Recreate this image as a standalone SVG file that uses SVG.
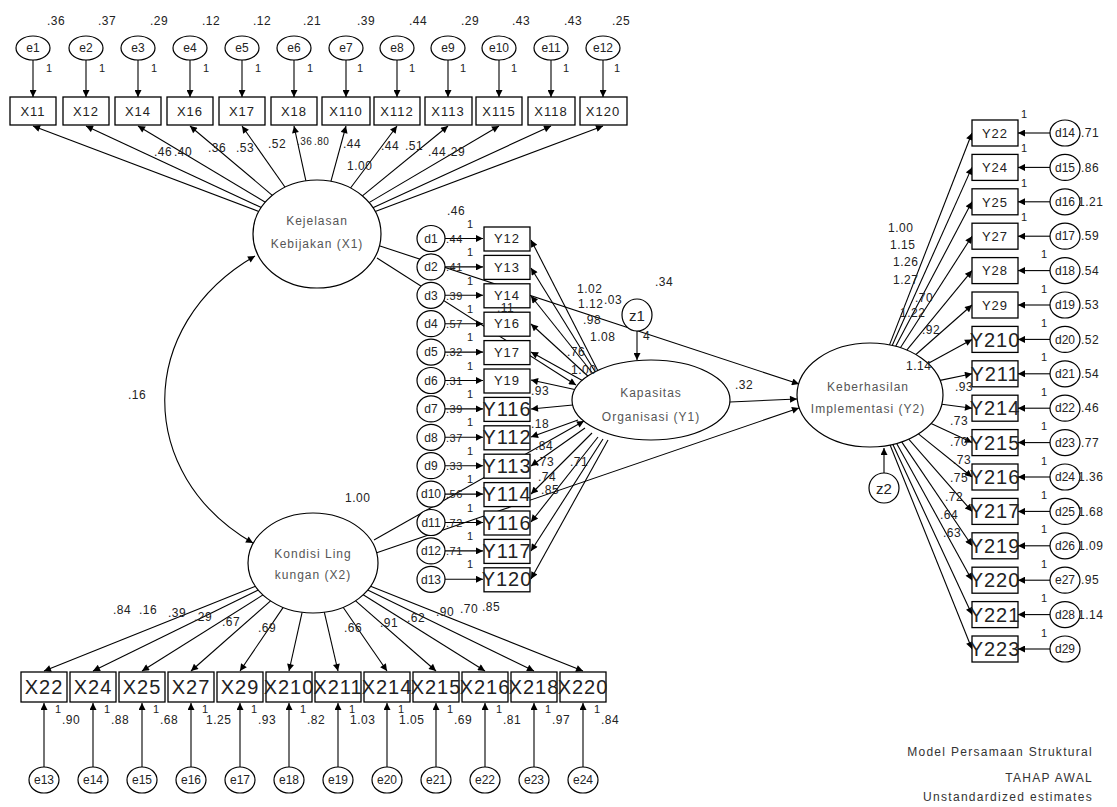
<svg xmlns="http://www.w3.org/2000/svg" width="1117" height="807" viewBox="0 0 1117 807">
<style>
text{font-family:"Liberation Sans",Arial,sans-serif;fill:#222}
.s{font-size:12px;letter-spacing:0.5px}
.n{font-size:13px;text-anchor:middle;letter-spacing:1px}
.b{font-size:20px;text-anchor:middle;letter-spacing:1px}
.one{font-size:11px}
.lat{font-size:12px;text-anchor:middle;fill:#555;letter-spacing:1px}
.e{font-size:12px;text-anchor:middle}
.bx{fill:#fff;stroke:#000;stroke-width:1.3}
.el{fill:#fff;stroke:#000;stroke-width:1.2}
.c line,.c path{stroke:#000;stroke-width:1.1;fill:none}
.ttl{font-size:12px;text-anchor:end;letter-spacing:1.3px;fill:#333}
</style>
<defs>
<marker id="a" viewBox="0 0 10 10" refX="10" refY="5" markerWidth="9" markerHeight="7" markerUnits="userSpaceOnUse" orient="auto-start-reverse"><path d="M0,0 L10,5 L0,10 z" fill="#000"/></marker>
</defs>
<rect width="1117" height="807" fill="#fff"/>

<g class="c" id="connectors" marker-end="url(#a)">
<line x1="33" y1="60" x2="33" y2="97"/><line x1="86" y1="60" x2="86" y2="97"/><line x1="138" y1="60" x2="138" y2="97"/><line x1="190" y1="60" x2="190" y2="97"/><line x1="242" y1="60" x2="242" y2="97"/><line x1="294" y1="60" x2="294" y2="97"/><line x1="346" y1="60" x2="346" y2="97"/><line x1="397" y1="60" x2="397" y2="97"/><line x1="448" y1="60" x2="448" y2="97"/><line x1="499" y1="60" x2="499" y2="97"/><line x1="551" y1="60" x2="551" y2="97"/><line x1="603" y1="60" x2="603" y2="97"/>
<line x1="258.8" y1="211.5" x2="33" y2="126"/><line x1="261.3" y1="207.5" x2="86" y2="126"/><line x1="265.3" y1="202.2" x2="138" y2="126"/><line x1="272.3" y1="195.3" x2="190" y2="126"/><line x1="285.1" y1="187.2" x2="242" y2="126"/><line x1="305.9" y1="180.8" x2="294" y2="126"/><line x1="330.9" y1="181.3" x2="346" y2="126"/><line x1="350.5" y1="188" x2="397" y2="126"/><line x1="362.4" y1="195.9" x2="448" y2="126"/><line x1="369" y1="202.6" x2="499" y2="126"/><line x1="372.9" y1="207.7" x2="551" y2="126"/><line x1="375.2" y1="211.6" x2="603" y2="126"/>
<path d="M255,256 C135,325 135,475 253,543" marker-start="url(#a)"/>
<line x1="377" y1="258" x2="576" y2="385"/>
<line x1="380" y1="246" x2="799" y2="384"/>
<line x1="374" y1="540" x2="584" y2="421"/>
<line x1="376" y1="553" x2="799" y2="408"/>
<line x1="730" y1="402" x2="797" y2="399"/>
<line x1="637" y1="331" x2="637" y2="360"/>
<line x1="884" y1="473" x2="884" y2="448"/>
<line x1="445" y1="238.5" x2="483" y2="238.5"/><line x1="445" y1="266.9" x2="483" y2="266.9"/><line x1="445" y1="295.3" x2="483" y2="295.3"/><line x1="445" y1="323.7" x2="483" y2="323.7"/><line x1="445" y1="352.1" x2="483" y2="352.1"/><line x1="445" y1="380.5" x2="483" y2="380.5"/><line x1="445" y1="408.9" x2="483" y2="408.9"/><line x1="445" y1="437.3" x2="483" y2="437.3"/><line x1="445" y1="465.7" x2="483" y2="465.7"/><line x1="445" y1="494.1" x2="483" y2="494.1"/><line x1="445" y1="522.5" x2="483" y2="522.5"/><line x1="445" y1="550.9" x2="483" y2="550.9"/><line x1="445" y1="579.3" x2="483" y2="579.3"/>
<line x1="598" y1="371" x2="531" y2="240"/><line x1="596" y1="373" x2="531" y2="268"/><line x1="594" y1="375" x2="531" y2="296"/><line x1="590" y1="378" x2="531" y2="324"/><line x1="585" y1="382" x2="531" y2="352"/><line x1="577" y1="390" x2="531" y2="380"/><line x1="573" y1="405" x2="531" y2="409"/><line x1="578" y1="420" x2="531" y2="437"/><line x1="585" y1="428" x2="531" y2="466"/><line x1="592" y1="433" x2="531" y2="494"/><line x1="598" y1="437" x2="531" y2="522"/><line x1="603" y1="439" x2="531" y2="551"/><line x1="608" y1="440" x2="531" y2="579"/>
<line x1="889.5" y1="344.9" x2="972" y2="133"/><line x1="892.2" y1="345.5" x2="972" y2="167.4"/><line x1="895.7" y1="346.3" x2="972" y2="201.8"/><line x1="900.4" y1="347.7" x2="972" y2="236.2"/><line x1="906.8" y1="350.1" x2="972" y2="270.6"/><line x1="915.9" y1="354.5" x2="972" y2="305"/><line x1="928" y1="363.4" x2="972" y2="339.4"/><line x1="940.1" y1="380.4" x2="972" y2="373.8"/><line x1="941.8" y1="404.3" x2="972" y2="408.2"/><line x1="931.1" y1="423.5" x2="972" y2="442.6"/><line x1="918.4" y1="433.9" x2="972" y2="477"/><line x1="908.7" y1="439.1" x2="972" y2="511.4"/><line x1="901.7" y1="441.9" x2="972" y2="545.8"/><line x1="896.7" y1="443.4" x2="972" y2="580.2"/><line x1="892.9" y1="444.4" x2="972" y2="614.6"/><line x1="890.1" y1="445" x2="972" y2="649"/>
<line x1="1050" y1="133" x2="1018" y2="133"/><line x1="1050" y1="167.4" x2="1018" y2="167.4"/><line x1="1050" y1="201.8" x2="1018" y2="201.8"/><line x1="1050" y1="236.2" x2="1018" y2="236.2"/><line x1="1050" y1="270.6" x2="1018" y2="270.6"/><line x1="1050" y1="305" x2="1018" y2="305"/><line x1="1050" y1="339.4" x2="1018" y2="339.4"/><line x1="1050" y1="373.8" x2="1018" y2="373.8"/><line x1="1050" y1="408.2" x2="1018" y2="408.2"/><line x1="1050" y1="442.6" x2="1018" y2="442.6"/><line x1="1050" y1="477" x2="1018" y2="477"/><line x1="1050" y1="511.4" x2="1018" y2="511.4"/><line x1="1050" y1="545.8" x2="1018" y2="545.8"/><line x1="1050" y1="580.2" x2="1018" y2="580.2"/><line x1="1050" y1="614.6" x2="1018" y2="614.6"/><line x1="1050" y1="649" x2="1018" y2="649"/>
<line x1="255.5" y1="586.3" x2="44" y2="671"/><line x1="258.3" y1="590.1" x2="93" y2="671"/><line x1="263" y1="594.9" x2="142" y2="671"/><line x1="270.6" y1="600.9" x2="191" y2="671"/><line x1="283.2" y1="607.4" x2="240" y2="671"/><line x1="302.1" y1="612.3" x2="289" y2="671"/><line x1="324.3" y1="612.2" x2="338" y2="671"/><line x1="343.1" y1="607.3" x2="387" y2="671"/><line x1="355.6" y1="600.8" x2="436" y2="671"/><line x1="363.2" y1="594.8" x2="485" y2="671"/><line x1="367.7" y1="590" x2="534" y2="671"/><line x1="370.6" y1="586.2" x2="583" y2="671"/>
<line x1="44" y1="767" x2="44" y2="703"/><line x1="93" y1="767" x2="93" y2="703"/><line x1="142" y1="767" x2="142" y2="703"/><line x1="191" y1="767" x2="191" y2="703"/><line x1="240" y1="767" x2="240" y2="703"/><line x1="289" y1="767" x2="289" y2="703"/><line x1="338" y1="767" x2="338" y2="703"/><line x1="387" y1="767" x2="387" y2="703"/><line x1="436" y1="767" x2="436" y2="703"/><line x1="485" y1="767" x2="485" y2="703"/><line x1="534" y1="767" x2="534" y2="703"/><line x1="583" y1="767" x2="583" y2="703"/>
</g>

<g id="X1"><ellipse class="el" cx="317" cy="234" rx="64" ry="54"/><text class="lat" x="317" y="225">Kejelasan</text><text class="lat" x="317" y="248">Kebijakan (X1)</text></g>
<g id="X2"><ellipse class="el" cx="313" cy="563" rx="65" ry="50"/><text class="lat" x="313" y="558">Kondisi Ling</text><text class="lat" x="313" y="579">kungan (X2)</text></g>
<g id="Y1"><ellipse class="el" cx="651" cy="400" rx="79" ry="40"/><text class="lat" x="651" y="397">Kapasitas</text><text class="lat" x="651" y="421">Organisasi (Y1)</text></g>
<g id="Y2"><ellipse class="el" cx="870" cy="395" rx="73" ry="52"/><text class="lat" x="868" y="391">Keberhasilan</text><text class="lat" x="868" y="413">Implementasi (Y2)</text></g>
<g id="z1"><ellipse class="el" cx="637" cy="315" rx="15" ry="16"/><text class="e" x="637" y="321" style="font-size:15px">z1</text></g>
<g id="z2"><ellipse class="el" cx="884" cy="488" rx="15" ry="15"/><text class="e" x="884" y="494" style="font-size:15px">z2</text></g>

<g id="e1"><ellipse class="el" cx="33" cy="48" rx="17" ry="12"/><text class="e" x="33" y="52">e1</text></g>
<g id="e2"><ellipse class="el" cx="86" cy="48" rx="17" ry="12"/><text class="e" x="86" y="52">e2</text></g>
<g id="e3"><ellipse class="el" cx="138" cy="48" rx="17" ry="12"/><text class="e" x="138" y="52">e3</text></g>
<g id="e4"><ellipse class="el" cx="190" cy="48" rx="17" ry="12"/><text class="e" x="190" y="52">e4</text></g>
<g id="e5"><ellipse class="el" cx="242" cy="48" rx="17" ry="12"/><text class="e" x="242" y="52">e5</text></g>
<g id="e6"><ellipse class="el" cx="294" cy="48" rx="17" ry="12"/><text class="e" x="294" y="52">e6</text></g>
<g id="e7"><ellipse class="el" cx="346" cy="48" rx="17" ry="12"/><text class="e" x="346" y="52">e7</text></g>
<g id="e8"><ellipse class="el" cx="397" cy="48" rx="17" ry="12"/><text class="e" x="397" y="52">e8</text></g>
<g id="e9"><ellipse class="el" cx="448" cy="48" rx="17" ry="12"/><text class="e" x="448" y="52">e9</text></g>
<g id="e10"><ellipse class="el" cx="499" cy="48" rx="17" ry="12"/><text class="e" x="499" y="52">e10</text></g>
<g id="e11"><ellipse class="el" cx="551" cy="48" rx="17" ry="12"/><text class="e" x="551" y="52">e11</text></g>
<g id="e12"><ellipse class="el" cx="603" cy="48" rx="17" ry="12"/><text class="e" x="603" y="52">e12</text></g>
<g id="X11"><rect class="bx" x="10" y="97" width="46" height="28"/><text class="n" x="33" y="116">X11</text></g>
<g id="X12"><rect class="bx" x="63" y="97" width="46" height="28"/><text class="n" x="86" y="116">X12</text></g>
<g id="X14"><rect class="bx" x="115" y="97" width="46" height="28"/><text class="n" x="138" y="116">X14</text></g>
<g id="X16"><rect class="bx" x="167" y="97" width="46" height="28"/><text class="n" x="190" y="116">X16</text></g>
<g id="X17"><rect class="bx" x="219" y="97" width="46" height="28"/><text class="n" x="242" y="116">X17</text></g>
<g id="X18"><rect class="bx" x="271" y="97" width="46" height="28"/><text class="n" x="294" y="116">X18</text></g>
<g id="X110"><rect class="bx" x="322" y="97" width="48" height="28"/><text class="n" x="346" y="116">X110</text></g>
<g id="X112"><rect class="bx" x="374" y="97" width="46" height="28"/><text class="n" x="397" y="116">X112</text></g>
<g id="X113"><rect class="bx" x="425" y="97" width="47" height="28"/><text class="n" x="448" y="116">X113</text></g>
<g id="X115"><rect class="bx" x="476" y="97" width="46" height="28"/><text class="n" x="499" y="116">X115</text></g>
<g id="X118"><rect class="bx" x="528" y="97" width="47" height="28"/><text class="n" x="551" y="116">X118</text></g>
<g id="X120"><rect class="bx" x="580" y="97" width="47" height="28"/><text class="n" x="603" y="116">X120</text></g>

<g id="d1"><ellipse class="el" cx="431" cy="238.5" rx="14" ry="13"/><text class="e" x="431" y="243">d1</text></g>
<g id="d2"><ellipse class="el" cx="431" cy="266.9" rx="14" ry="13"/><text class="e" x="431" y="271">d2</text></g>
<g id="d3"><ellipse class="el" cx="431" cy="295.3" rx="14" ry="13"/><text class="e" x="431" y="300">d3</text></g>
<g id="d4"><ellipse class="el" cx="431" cy="323.7" rx="14" ry="13"/><text class="e" x="431" y="328">d4</text></g>
<g id="d5"><ellipse class="el" cx="431" cy="352.1" rx="14" ry="13"/><text class="e" x="431" y="356">d5</text></g>
<g id="d6"><ellipse class="el" cx="431" cy="380.5" rx="14" ry="13"/><text class="e" x="431" y="385">d6</text></g>
<g id="d7"><ellipse class="el" cx="431" cy="408.9" rx="14" ry="13"/><text class="e" x="431" y="413">d7</text></g>
<g id="d8"><ellipse class="el" cx="431" cy="437.3" rx="14" ry="13"/><text class="e" x="431" y="442">d8</text></g>
<g id="d9"><ellipse class="el" cx="431" cy="465.7" rx="14" ry="13"/><text class="e" x="431" y="470">d9</text></g>
<g id="d10"><ellipse class="el" cx="431" cy="494.1" rx="14" ry="13"/><text class="e" x="431" y="498">d10</text></g>
<g id="d11"><ellipse class="el" cx="431" cy="522.5" rx="14" ry="13"/><text class="e" x="431" y="527">d11</text></g>
<g id="d12"><ellipse class="el" cx="431" cy="550.9" rx="14" ry="13"/><text class="e" x="431" y="555">d12</text></g>
<g id="d13"><ellipse class="el" cx="431" cy="579.3" rx="14" ry="13"/><text class="e" x="431" y="584">d13</text></g>
<g id="Y12"><rect class="bx" x="484" y="227" width="46" height="24"/><text class="n" x="507" y="243">Y12</text></g>
<g id="Y13"><rect class="bx" x="484" y="255.4" width="46" height="24"/><text class="n" x="507" y="272">Y13</text></g>
<g id="Y14"><rect class="bx" x="484" y="283.8" width="46" height="24"/><text class="n" x="507" y="300">Y14</text></g>
<g id="Y16"><rect class="bx" x="484" y="312.2" width="46" height="24"/><text class="n" x="507" y="328">Y16</text></g>
<g id="Y17"><rect class="bx" x="484" y="340.6" width="46" height="24"/><text class="n" x="507" y="357">Y17</text></g>
<g id="Y19"><rect class="bx" x="484" y="369" width="46" height="24"/><text class="n" x="507" y="385">Y19</text></g>
<g id="Y116a"><rect class="bx" x="484" y="397.4" width="46" height="24"/><text class="b" x="507" y="416">Y116</text></g>
<g id="Y112"><rect class="bx" x="484" y="425.8" width="46" height="24"/><text class="b" x="507" y="444">Y112</text></g>
<g id="Y113"><rect class="bx" x="484" y="454.2" width="46" height="24"/><text class="b" x="507" y="473">Y113</text></g>
<g id="Y114"><rect class="bx" x="484" y="482.6" width="46" height="24"/><text class="b" x="507" y="501">Y114</text></g>
<g id="Y116b"><rect class="bx" x="484" y="511" width="46" height="24"/><text class="b" x="507" y="530">Y116</text></g>
<g id="Y117"><rect class="bx" x="484" y="539.4" width="46" height="24"/><text class="b" x="507" y="558">Y117</text></g>
<g id="Y120"><rect class="bx" x="484" y="567.8" width="46" height="24"/><text class="b" x="507" y="586">Y120</text></g>

<g id="Y22"><rect class="bx" x="972" y="120" width="46" height="26"/><text class="n" x="995" y="138">Y22</text></g>
<g id="Y24"><rect class="bx" x="972" y="154.4" width="46" height="26"/><text class="n" x="995" y="172">Y24</text></g>
<g id="Y25"><rect class="bx" x="972" y="188.8" width="46" height="26"/><text class="n" x="995" y="207">Y25</text></g>
<g id="Y27"><rect class="bx" x="972" y="223.2" width="46" height="26"/><text class="n" x="995" y="241">Y27</text></g>
<g id="Y28"><rect class="bx" x="972" y="257.6" width="46" height="26"/><text class="n" x="995" y="275">Y28</text></g>
<g id="Y29"><rect class="bx" x="972" y="292" width="46" height="26"/><text class="n" x="995" y="310">Y29</text></g>
<g id="Y210"><rect class="bx" x="972" y="326.4" width="46" height="26"/><text class="b" x="995" y="347">Y210</text></g>
<g id="Y211"><rect class="bx" x="972" y="360.8" width="46" height="26"/><text class="b" x="995" y="381">Y211</text></g>
<g id="Y214"><rect class="bx" x="972" y="395.2" width="46" height="26"/><text class="b" x="995" y="415">Y214</text></g>
<g id="Y215"><rect class="bx" x="972" y="429.6" width="46" height="26"/><text class="b" x="995" y="450">Y215</text></g>
<g id="Y216"><rect class="bx" x="972" y="464" width="46" height="26"/><text class="b" x="995" y="484">Y216</text></g>
<g id="Y217"><rect class="bx" x="972" y="498.4" width="46" height="26"/><text class="b" x="995" y="518">Y217</text></g>
<g id="Y219"><rect class="bx" x="972" y="532.8" width="46" height="26"/><text class="b" x="995" y="553">Y219</text></g>
<g id="Y220"><rect class="bx" x="972" y="567.2" width="46" height="26"/><text class="b" x="995" y="587">Y220</text></g>
<g id="Y221"><rect class="bx" x="972" y="601.6" width="46" height="26"/><text class="b" x="995" y="622">Y221</text></g>
<g id="Y223"><rect class="bx" x="972" y="636" width="46" height="26"/><text class="b" x="995" y="656">Y223</text></g>
<g id="d14"><ellipse class="el" cx="1065" cy="133" rx="15" ry="13"/><text class="e" x="1065" y="137">d14</text></g>
<g id="d15"><ellipse class="el" cx="1065" cy="167.4" rx="15" ry="13"/><text class="e" x="1065" y="172">d15</text></g>
<g id="d16"><ellipse class="el" cx="1065" cy="201.8" rx="15" ry="13"/><text class="e" x="1065" y="206">d16</text></g>
<g id="d17"><ellipse class="el" cx="1065" cy="236.2" rx="15" ry="13"/><text class="e" x="1065" y="240">d17</text></g>
<g id="d18"><ellipse class="el" cx="1065" cy="270.6" rx="15" ry="13"/><text class="e" x="1065" y="275">d18</text></g>
<g id="d19"><ellipse class="el" cx="1065" cy="305" rx="15" ry="13"/><text class="e" x="1065" y="309">d19</text></g>
<g id="d20"><ellipse class="el" cx="1065" cy="339.4" rx="15" ry="13"/><text class="e" x="1065" y="344">d20</text></g>
<g id="d21"><ellipse class="el" cx="1065" cy="373.8" rx="15" ry="13"/><text class="e" x="1065" y="378">d21</text></g>
<g id="d22"><ellipse class="el" cx="1065" cy="408.2" rx="15" ry="13"/><text class="e" x="1065" y="412">d22</text></g>
<g id="d23"><ellipse class="el" cx="1065" cy="442.6" rx="15" ry="13"/><text class="e" x="1065" y="447">d23</text></g>
<g id="d24"><ellipse class="el" cx="1065" cy="477" rx="15" ry="13"/><text class="e" x="1065" y="481">d24</text></g>
<g id="d25"><ellipse class="el" cx="1065" cy="511.4" rx="15" ry="13"/><text class="e" x="1065" y="516">d25</text></g>
<g id="d26"><ellipse class="el" cx="1065" cy="545.8" rx="15" ry="13"/><text class="e" x="1065" y="550">d26</text></g>
<g id="e27"><ellipse class="el" cx="1065" cy="580.2" rx="15" ry="13"/><text class="e" x="1065" y="584">e27</text></g>
<g id="d28"><ellipse class="el" cx="1065" cy="614.6" rx="15" ry="13"/><text class="e" x="1065" y="619">d28</text></g>
<g id="d29"><ellipse class="el" cx="1065" cy="649" rx="15" ry="13"/><text class="e" x="1065" y="653">d29</text></g>

<g id="X22"><rect class="bx" x="21" y="672" width="46" height="30"/><text class="b" x="44" y="694">X22</text></g>
<g id="X24"><rect class="bx" x="70" y="672" width="46" height="30"/><text class="b" x="93" y="694">X24</text></g>
<g id="X25"><rect class="bx" x="119" y="672" width="46" height="30"/><text class="b" x="142" y="694">X25</text></g>
<g id="X27"><rect class="bx" x="168" y="672" width="46" height="30"/><text class="b" x="191" y="694">X27</text></g>
<g id="X29"><rect class="bx" x="217" y="672" width="46" height="30"/><text class="b" x="240" y="694">X29</text></g>
<g id="X210"><rect class="bx" x="266" y="672" width="46" height="30"/><text class="b" x="289" y="694">X210</text></g>
<g id="X211"><rect class="bx" x="315" y="672" width="46" height="30"/><text class="b" x="338" y="694">X211</text></g>
<g id="X214"><rect class="bx" x="364" y="672" width="46" height="30"/><text class="b" x="387" y="694">X214</text></g>
<g id="X215"><rect class="bx" x="413" y="672" width="46" height="30"/><text class="b" x="436" y="694">X215</text></g>
<g id="X216"><rect class="bx" x="462" y="672" width="46" height="30"/><text class="b" x="485" y="694">X216</text></g>
<g id="X218"><rect class="bx" x="511" y="672" width="46" height="30"/><text class="b" x="534" y="694">X218</text></g>
<g id="X220"><rect class="bx" x="560" y="672" width="46" height="30"/><text class="b" x="583" y="694">X220</text></g>
<g id="e13"><ellipse class="el" cx="44" cy="780" rx="15" ry="13"/><text class="e" x="44" y="784">e13</text></g>
<g id="e14"><ellipse class="el" cx="93" cy="780" rx="15" ry="13"/><text class="e" x="93" y="784">e14</text></g>
<g id="e15"><ellipse class="el" cx="142" cy="780" rx="15" ry="13"/><text class="e" x="142" y="784">e15</text></g>
<g id="e16"><ellipse class="el" cx="191" cy="780" rx="15" ry="13"/><text class="e" x="191" y="784">e16</text></g>
<g id="e17"><ellipse class="el" cx="240" cy="780" rx="15" ry="13"/><text class="e" x="240" y="784">e17</text></g>
<g id="e18"><ellipse class="el" cx="289" cy="780" rx="15" ry="13"/><text class="e" x="289" y="784">e18</text></g>
<g id="e19"><ellipse class="el" cx="338" cy="780" rx="15" ry="13"/><text class="e" x="338" y="784">e19</text></g>
<g id="e20"><ellipse class="el" cx="387" cy="780" rx="15" ry="13"/><text class="e" x="387" y="784">e20</text></g>
<g id="e21"><ellipse class="el" cx="436" cy="780" rx="15" ry="13"/><text class="e" x="436" y="784">e21</text></g>
<g id="e22"><ellipse class="el" cx="485" cy="780" rx="15" ry="13"/><text class="e" x="485" y="784">e22</text></g>
<g id="e23"><ellipse class="el" cx="534" cy="780" rx="15" ry="13"/><text class="e" x="534" y="784">e23</text></g>
<g id="e24"><ellipse class="el" cx="583" cy="780" rx="15" ry="13"/><text class="e" x="583" y="784">e24</text></g>

<g id="labels" class="s">
<text x="47" y="25">.36</text><text x="98" y="25">.37</text><text x="150" y="25">.29</text><text x="202" y="25">.12</text><text x="253" y="25">.12</text><text x="303" y="25">.21</text><text x="357" y="25">.39</text><text x="409" y="25">.44</text><text x="461" y="25">.29</text><text x="512" y="25">.43</text><text x="564" y="25">.43</text><text x="612" y="25">.25</text>
<g class="one"><text x="46" y="72">1</text><text x="99" y="72">1</text><text x="151" y="72">1</text><text x="203" y="72">1</text><text x="255" y="72">1</text><text x="307" y="72">1</text><text x="357" y="72">1</text><text x="409" y="72">1</text><text x="460" y="72">1</text><text x="511" y="72">1</text><text x="563" y="72">1</text><text x="614" y="72">1</text></g>
<text x="154" y="156">.46</text><text x="174" y="156">.40</text><text x="208" y="152">.36</text><text x="236" y="152">.53</text><text x="268" y="148">.52</text><text x="297" y="145" style="font-size:10px">.36</text><text x="314" y="145" style="font-size:10px">.80</text><text x="343" y="148">.44</text><text x="347" y="170">1.00</text><text x="381" y="150">.44</text><text x="405" y="150">.51</text><text x="428" y="156">.44</text><text x="447" y="156">.29</text>
<text x="128" y="399">.16</text>
<text x="345" y="502">1.00</text>
<text x="447" y="215">.46</text>
<g style="font-size:11px"><text x="446" y="243">.44</text><text x="446" y="271">.41</text><text x="446" y="300">.39</text><text x="446" y="328">.57</text><text x="446" y="356">.32</text><text x="446" y="385">.31</text><text x="446" y="413">.39</text><text x="446" y="442">.37</text><text x="446" y="470">.33</text><text x="446" y="498">.56</text><text x="446" y="527">.72</text><text x="446" y="555">.71</text></g>
<g class="one"><text x="467" y="228">1</text><text x="467" y="256">1</text><text x="467" y="285">1</text><text x="467" y="313">1</text><text x="467" y="341">1</text><text x="467" y="370">1</text><text x="467" y="398">1</text><text x="467" y="426">1</text><text x="467" y="455">1</text><text x="467" y="483">1</text><text x="467" y="512">1</text><text x="467" y="540">1</text><text x="467" y="568">1</text></g>
<text x="577" y="293">1.02</text><text x="578" y="308">1.12</text><text x="604" y="304">.03</text><text x="655" y="286">.34</text><text x="583" y="324">.98</text><text x="590" y="341">1.08</text><text x="497" y="312">.11</text><text x="567" y="356">.76</text><text x="571" y="374">1.00</text><text x="531" y="395">.93</text><text x="531" y="428">.18</text><text x="535" y="450">.84</text><text x="570" y="466">.71</text><text x="536" y="466">.73</text><text x="538" y="481">.74</text><text x="541" y="494">.85</text><text x="643" y="340">4</text>
<text x="735" y="389">.32</text>
<text x="888" y="232">1.00</text><text x="890" y="249">1.15</text><text x="893" y="266">1.26</text><text x="893" y="284">1.27</text><text x="915" y="302">.70</text><text x="900" y="317">1.22</text><text x="922" y="334">.92</text><text x="906" y="370">1.14</text><text x="955" y="391">.93</text><text x="950" y="425">.73</text><text x="950" y="446">.70</text><text x="953" y="464">.73</text><text x="950" y="482">.75</text><text x="945" y="501">.72</text><text x="940" y="519">.64</text><text x="943" y="537">.63</text>
<g class="one"><text x="1021" y="118">1</text><text x="1021" y="152">1</text><text x="1021" y="187">1</text><text x="1021" y="221">1</text><text x="1041" y="258">1</text><text x="1041" y="293">1</text><text x="1041" y="327">1</text><text x="1041" y="361">1</text><text x="1041" y="396">1</text><text x="1041" y="430">1</text><text x="1041" y="465">1</text><text x="1041" y="499">1</text><text x="1041" y="533">1</text><text x="1041" y="568">1</text><text x="1041" y="602">1</text><text x="1041" y="637">1</text></g>
<text x="1081" y="137">.71</text><text x="1081" y="172">.86</text><text x="1078" y="206">1.21</text><text x="1081" y="240">.59</text><text x="1081" y="275">.54</text><text x="1081" y="309">.53</text><text x="1081" y="344">.52</text><text x="1081" y="378">.54</text><text x="1081" y="412">.46</text><text x="1081" y="447">.77</text><text x="1078" y="481">1.36</text><text x="1078" y="516">1.68</text><text x="1078" y="550">1.09</text><text x="1081" y="584">.95</text><text x="1078" y="619">1.14</text>
<text x="113" y="614">.84</text><text x="139" y="614">.16</text><text x="168" y="617">.39</text><text x="194" y="621">.29</text><text x="222" y="626">.67</text><text x="258" y="632">.69</text><text x="344" y="632">.66</text><text x="380" y="627">.91</text><text x="407" y="622">.62</text><text x="436" y="616">.90</text><text x="460" y="613">.70</text><text x="482" y="611">.85</text>
<text x="62" y="724">.90</text><text x="111" y="724">.88</text><text x="160" y="724">.68</text><text x="206" y="724">1.25</text><text x="258" y="724">.93</text><text x="307" y="724">.82</text><text x="350" y="724">1.03</text><text x="399" y="724">1.05</text><text x="454" y="724">.69</text><text x="503" y="724">.81</text><text x="552" y="724">.97</text><text x="601" y="724">.84</text>
<g class="one"><text x="55" y="713">1</text><text x="104" y="713">1</text><text x="153" y="713">1</text><text x="202" y="713">1</text><text x="251" y="713">1</text><text x="300" y="713">1</text><text x="349" y="713">1</text><text x="398" y="713">1</text><text x="447" y="713">1</text><text x="496" y="713">1</text><text x="545" y="713">1</text><text x="594" y="713">1</text></g>
</g>
<g id="title"><text class="ttl" x="1093" y="756">Model Persamaan Struktural</text><text class="ttl" x="1093" y="782">TAHAP AWAL</text><text class="ttl" x="1093" y="801">Unstandardized estimates</text></g>
</svg>
